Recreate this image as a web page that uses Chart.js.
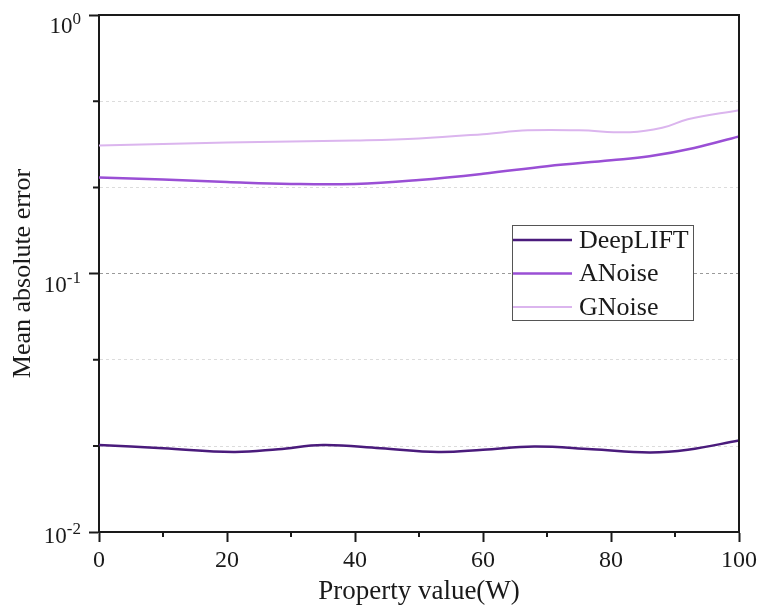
<!DOCTYPE html>
<html>
<head>
<meta charset="utf-8">
<script src="https://cdn.jsdelivr.net/npm/chart.js@4.4.0/dist/chart.umd.min.js"></script>
<style>
html, body { margin: 0; padding: 0; background: #fff; }
#wrap { width: 761px; height: 607px; position: relative; }
</style>
</head>
<body>
<div id="wrap"><canvas id="myChart"></canvas></div>
<script>
const serif = "'Liberation Serif', 'Times New Roman', serif";

const seriesNames = ["DeepLIFT", "ANoise", "GNoise"];
const lineColors = ["#4a1b7c", "#9a4fd5", "#dbb5ee"];

const deepliftX = [0, 10, 21, 28, 35, 44, 53, 60, 68, 77, 86, 92, 100];
const deepliftY = [0.0217, 0.0211, 0.0204, 0.0209, 0.0217, 0.0211, 0.0204, 0.0208, 0.0214, 0.0209, 0.0203, 0.0208, 0.0226];
const anoiseX = [0, 10, 20, 30, 40, 50, 60, 70, 80, 86, 93, 100];
const anoiseY = [0.235, 0.231, 0.226, 0.222, 0.222, 0.23, 0.243, 0.26, 0.274, 0.284, 0.306, 0.339];
const gnoiseX = [0, 10, 20, 30, 40, 50, 60, 67, 75, 83, 88, 92, 100];
const gnoiseY = [0.313, 0.317, 0.321, 0.324, 0.327, 0.333, 0.346, 0.358, 0.358, 0.352, 0.366, 0.395, 0.428];

const xTicks = [0, 20, 40, 60, 80, 100];
const xMinorTicks = [10, 30, 50, 70, 90];
const yTicks = [0.01, 0.1, 1];
const yMinorTicks = [0.0215, 0.0464, 0.215, 0.464];

function pts(xs, ys) {
	return xs.map((x, i) => ({ x: x, y: ys[i] }));
}

// frame, minor ticks, y labels with exponents and the boxed legend
const extras = {
	id: "extras",
	afterDraw(chart) {
		const ctx = chart.ctx;
		const area = chart.chartArea;
		const xs = chart.scales.x;
		const ys = chart.scales.y;
		ctx.save();
		ctx.strokeStyle = "#1a1a1a";
		ctx.lineWidth = 2;
		ctx.beginPath();
		ctx.moveTo(area.left - 1, area.top);
		ctx.lineTo(area.right, area.top);
		ctx.lineTo(area.right, area.bottom + 1);
		ctx.stroke();

		ctx.beginPath();
		for (let v of xMinorTicks) {
			const px = xs.getPixelForValue(v);
			ctx.moveTo(px, area.bottom);
			ctx.lineTo(px, area.bottom + 5);
		}
		for (let v of yMinorTicks) {
			const py = ys.getPixelForValue(v);
			ctx.moveTo(area.left, py);
			ctx.lineTo(area.left - 6, py);
		}
		ctx.stroke();

		ctx.fillStyle = "#1a1a1a";
		ctx.textBaseline = "alphabetic";
		for (let v of yTicks) {
			const py = ys.getPixelForValue(v);
			const exp = Math.round(Math.log10(v));
			const sup = exp === 0 ? "0" : "-" + (-exp);
			ctx.font = "17px " + serif;
			const supW = ctx.measureText(sup).width;
			ctx.font = "23px " + serif;
			const baseW = ctx.measureText("10").width;
			const x0 = area.left - 18 - supW - baseW;
			const base = py + (v === yTicks[0] ? 11 : 18);
			ctx.fillText("10", x0, base);
			ctx.font = "17px " + serif;
			ctx.fillText(sup, x0 + baseW, base - 9);
		}

		// legend
		const lx = 512, ly = 225, lw = 181, lh = 95;
		ctx.fillStyle = "#fff";
		ctx.fillRect(lx, ly, lw, lh);
		ctx.strokeStyle = "#555";
		ctx.lineWidth = 1;
		ctx.strokeRect(lx + 0.5, ly + 0.5, lw, lh);
		ctx.font = "26px " + serif;
		ctx.textBaseline = "middle";
		chart.data.datasets.forEach((ds, i) => {
			const rowY = ly + 15 + i * 33.5;
			ctx.strokeStyle = ds.borderColor;
			ctx.lineWidth = ds.borderWidth;
			ctx.beginPath();
			ctx.moveTo(lx + 1, rowY);
			ctx.lineTo(lx + 60, rowY);
			ctx.stroke();
			ctx.fillStyle = "#1a1a1a";
			ctx.fillText(ds.label, lx + 67, rowY + 1);
		});
		ctx.restore();
	},
};

const myChart = new Chart(document.getElementById("myChart"), {
	type: "line",
	data: {
		datasets: [
			{ label: seriesNames[0], data: pts(deepliftX, deepliftY), borderColor: lineColors[0], borderWidth: 2.5 },
			{ label: seriesNames[1], data: pts(anoiseX, anoiseY), borderColor: lineColors[1], borderWidth: 2.5 },
			{ label: seriesNames[2], data: pts(gnoiseX, gnoiseY), borderColor: lineColors[2], borderWidth: 2 },
		],
	},
	options: {
		responsive: true,
		maintainAspectRatio: false,
		animation: false,
		elements: {
			point: { radius: 0 },
			line: { tension: 0.4, fill: false },
		},
		layout: { padding: { top: 15, right: 21, left: 0, bottom: 0 } },
		plugins: {
			legend: { display: false },
			tooltip: { enabled: false },
		},
		scales: {
			x: {
				type: "linear",
				min: 0,
				max: 100,
				afterBuildTicks: (scale) => {
					scale.ticks = xTicks.map((v) => ({ value: v }));
				},
				afterFit: (scale) => {
					scale.height = 75;
				},
				ticks: {
					autoSkip: false,
					maxRotation: 0,
					padding: 4,
					color: "#1a1a1a",
					font: { family: serif, size: 24 },
				},
				grid: {
					drawOnChartArea: false,
					tickLength: 10,
					tickWidth: 2,
					tickColor: "#1a1a1a",
				},
				border: { color: "#1a1a1a", width: 2 },
				title: {
					display: true,
					text: "Property value(W)",
					color: "#1a1a1a",
					font: { family: serif, size: 27 },
					padding: { top: 0, bottom: -1 },
				},
			},
			y: {
				type: "logarithmic",
				min: 0.01,
				max: 1,
				afterBuildTicks: (scale) => {
					scale.ticks = yTicks.concat(yMinorTicks).sort((a, b) => a - b).map((v) => ({ value: v }));
				},
				afterFit: (scale) => {
					scale.width = 99;
				},
				ticks: { display: false },
				grid: {
					tickLength: 10,
					tickWidth: 2,
					lineWidth: 1,
					color: (c) => {
						const v = c.tick.value;
						if (v === 0.01 || v === 1) return "rgba(0,0,0,0)";
						if (v === 0.1) return "#9a9a9a";
						return "#dcdcdc";
					},
					tickColor: (c) => (yTicks.includes(c.tick.value) ? "#1a1a1a" : "rgba(0,0,0,0)"),
				},
				border: { color: "#1a1a1a", width: 2, dash: [3, 3] },
				title: {
					display: true,
					text: "Mean absolute error",
					color: "#1a1a1a",
					font: { family: serif, size: 26 },
					padding: { top: 8, bottom: 0 },
				},
			},
		},
	},
	plugins: [extras],
});
</script>
</body>
</html>
